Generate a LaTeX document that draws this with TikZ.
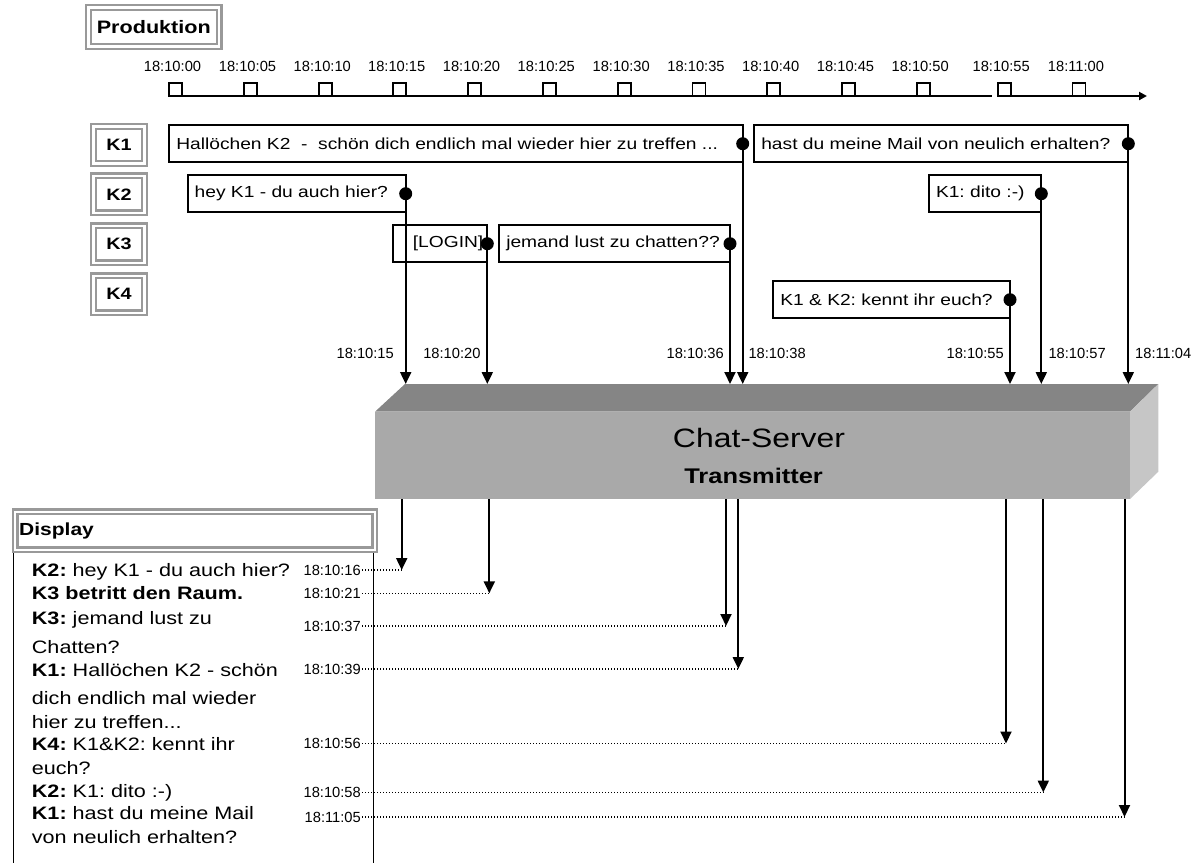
\documentclass[tikz,border=0pt]{standalone}
\usepackage{fontspec}
\setmainfont{Liberation Sans}[FakeStretch=1.2]
\newfontfamily\stampfont{Liberation Sans}
\usetikzlibrary{arrows.meta}
\frenchspacing

\definecolor{framegray}{HTML}{999999}
\definecolor{topgray}{HTML}{858585}
\definecolor{frontgray}{HTML}{A9A9A9}
\definecolor{sidegray}{HTML}{C6C6C6}

\tikzset{
  dblbox/.style = {draw=framegray, double=white, double distance=2.5pt,
                   line width=2.3pt, fill=white, inner sep=0pt, outer sep=0pt},
  kbox/.style   = {dblbox, minimum width=51pt, minimum height=37pt,
                   font=\bfseries\fontsize{16.5}{19}\selectfont},
  msgbox/.style = {draw, line width=1.7pt, fill=white, anchor=west,
                   minimum height=37pt, inner ysep=0pt, inner xsep=7pt,
                   outer sep=0pt, text width=#1, align=left,
                   font=\fontsize{16}{19}\selectfont},
  tickbox/.style = {draw, line width=1.6pt, fill=white, minimum size=13pt,
                   inner sep=0pt},
  stamp/.style  = {inner sep=1pt, font=\stampfont\fontsize{14.7}{17}\selectfont},
  sig/.style    = {line width=2pt, -{Triangle[width=11pt,length=12pt]}},
  dotline/.style = {line width=1.3pt, dash pattern=on 1.3pt off 1.7pt},
  dline/.style  = {anchor=base west, inner sep=0pt,
                   font=\fontsize{18}{21}\selectfont}
}

\begin{document}
\begin{tikzpicture}[x=1pt, y=-1pt]
  \useasboundingbox (0,0) rectangle (1197,863);

  \node[dblbox, minimum width=130.7pt, minimum height=39pt,
        font=\bfseries\fontsize{18}{21}\selectfont] (prod) at (153.8,27) {Produktion};

  \draw[line width=2pt] (168,96) -- (991.7,96);
  \draw[line width=2pt, -{Triangle[width=8pt,length=8pt]}] (997,96) -- (1147,96);
  \foreach \n/\x/\t in {0/175.5/18:10:00, 1/250.5/18:10:05, 2/325.3/18:10:10,
                        3/399.7/18:10:15, 4/474.5/18:10:20, 5/549.3/18:10:25,
                        6/624.2/18:10:30, 7/699/18:10:35, 8/773.7/18:10:40,
                        9/848.5/18:10:45, 10/923.2/18:10:50, 11/1004.2/18:10:55,
                        12/1079/18:11:00}{
    \node[tickbox] (t\n) at (\x,89.5) {};
    \node[stamp] (tl\n) at (\x-3,66) {\t};
  }

  \node[kbox] (k1) at (119,144.8) {K1};
  \node[kbox] (k2) at (119,194.3) {K2};
  \node[kbox] (k3) at (119,244.3) {K3};
  \node[kbox] (k4) at (119,294.3) {K4};

  \node[msgbox=559.4pt] (m1) at (169.3,143.7) {Hallöchen K2~ -~ schön dich endlich mal wieder hier zu treffen ...};
  \node[msgbox=360pt] (m2) at (754.3,143.7) {hast du meine Mail von neulich erhalten?};
  \node[msgbox=204pt] (m3) at (187.7,193.7) {hey K1 - du auch hier?};
  \node[msgbox=98.3pt] (m4) at (929,193.7) {K1: dito :-)};
  \node[msgbox=80pt, align=right, inner xsep=4pt, text width=86pt] (m5) at (393.3,243.7) {[LOGIN]};
  \node[msgbox=216.7pt] (m6) at (499.3,243.7) {jemand lust zu chatten??};
  \node[msgbox=222.7pt] (m7) at (773.3,299.7) {K1 \& K2: kennt ihr euch?};

  \node[fill=frontgray, minimum width=755pt, minimum height=87.3pt,
        inner sep=0pt, outer sep=0pt] (srv) at (752.5,455.35) {};
  \fill[topgray] (srv.north west) -- ++(30,-27.7)
     -- ([shift={(28.3,-27.7)}]srv.north east) -- (srv.north east) -- cycle;
  \fill[sidegray] (srv.north east) -- ++(28.3,-27.7) -- ++(0,87.7)
     -- (srv.south east) -- cycle;
  \node[font=\fontsize{26.6}{30}\selectfont] (srvname) at (759,437.5) {Chat-Server};
  \node[font=\bfseries\fontsize{21.2}{24}\selectfont] (srvrole) at (753.6,475.8) {Transmitter};

  \coordinate (srvback) at (0,384);
  \coordinate (stampline) at (0,353.3);
  \foreach \m in {m1,m2,m3,m4,m5,m6,m7}{
    \draw[sig] (\m.east) -- (\m.east |- srvback);
    \fill (\m.east) circle (6.5);
  }
  \node[stamp, anchor=east] (u1) at ([xshift=-10.7pt]m3.east |- stampline) {18:10:15};
  \node[stamp, anchor=east] (u2) at ([xshift=-5.6pt]m5.east |- stampline) {18:10:20};
  \node[stamp, anchor=east] (u3) at ([xshift=-5pt]m6.east |- stampline) {18:10:36};
  \node[stamp, anchor=west] (u4) at ([xshift=4.6pt]m1.east |- stampline) {18:10:38};
  \node[stamp, anchor=east] (u5) at ([xshift=-5pt]m7.east |- stampline) {18:10:55};
  \node[stamp, anchor=west] (u6) at ([xshift=6pt]m4.east |- stampline) {18:10:57};
  \node[stamp, anchor=west] (u7) at ([xshift=5.7pt]m2.east |- stampline) {18:11:04};

  \draw[line width=1.6pt] (13.3,549) -- (13.3,863);
  \draw[line width=1.6pt] (373.5,549) -- (373.5,863);
  \node[dblbox, minimum width=359.6pt, minimum height=38pt, text width=351.6pt,
        inner xsep=4pt, align=left,
        font=\bfseries\fontsize{17.5}{20}\selectfont] (disp) at (195,530.8) {Display};

  \node[dline] (l1) at (31.7,576.4) {\textbf{K2:} hey K1 - du auch hier?};
  \node[dline] (l2) at (31.7,599.7) {\textbf{K3 betritt den Raum.}};
  \node[dline] (l3) at (31.7,624.1) {\textbf{K3:} jemand lust zu};
  \node[dline] (l4) at (31.7,653.9) {Chatten?};
  \node[dline] (l5) at (31.7,676.1) {\textbf{K1:} Hallöchen K2 - schön};
  \node[dline] (l6) at (31.7,704.7) {dich endlich mal wieder};
  \node[dline] (l7) at (31.7,728.1) {hier zu treffen...};
  \node[dline] (l8) at (31.7,750.4) {\textbf{K4:} K1\&K2: kennt ihr};
  \node[dline] (l9) at (31.7,774.7) {euch?};
  \node[dline] (l10) at (31.7,797.1) {\textbf{K2:} K1: dito :-)};
  \node[dline] (l11) at (31.7,819.7) {\textbf{K1:} hast du meine Mail};
  \node[dline] (l12) at (31.7,843.7) {von neulich erhalten?};

  \coordinate (d1) at (401.7,570);
  \coordinate (d2) at (489.3,593.3);
  \coordinate (d3) at (726,626);
  \coordinate (d4) at (738.3,669);
  \coordinate (d5) at (1006,743.5);
  \coordinate (d6) at (1043.3,792.5);
  \coordinate (d7) at (1124.5,817);

  \node[stamp, anchor=east] (s1) at (362,570) {18:10:16};
  \node[stamp, anchor=east] (s2) at (362,593.3) {18:10:21};
  \node[stamp, anchor=east] (s3) at (362,626) {18:10:37};
  \node[stamp, anchor=east] (s4) at (362,669) {18:10:39};
  \node[stamp, anchor=east] (s5) at (362,743.5) {18:10:56};
  \node[stamp, anchor=east] (s6) at (362,792.5) {18:10:58};
  \node[stamp, anchor=east] (s7) at (362,817) {18:11:05};

  \foreach \i in {1,...,7}{
    \draw[sig] (d\i |- srv.south) -- (d\i);
    \draw[dotline] (s\i.east) -- (d\i);
  }
\end{tikzpicture}
\end{document}
